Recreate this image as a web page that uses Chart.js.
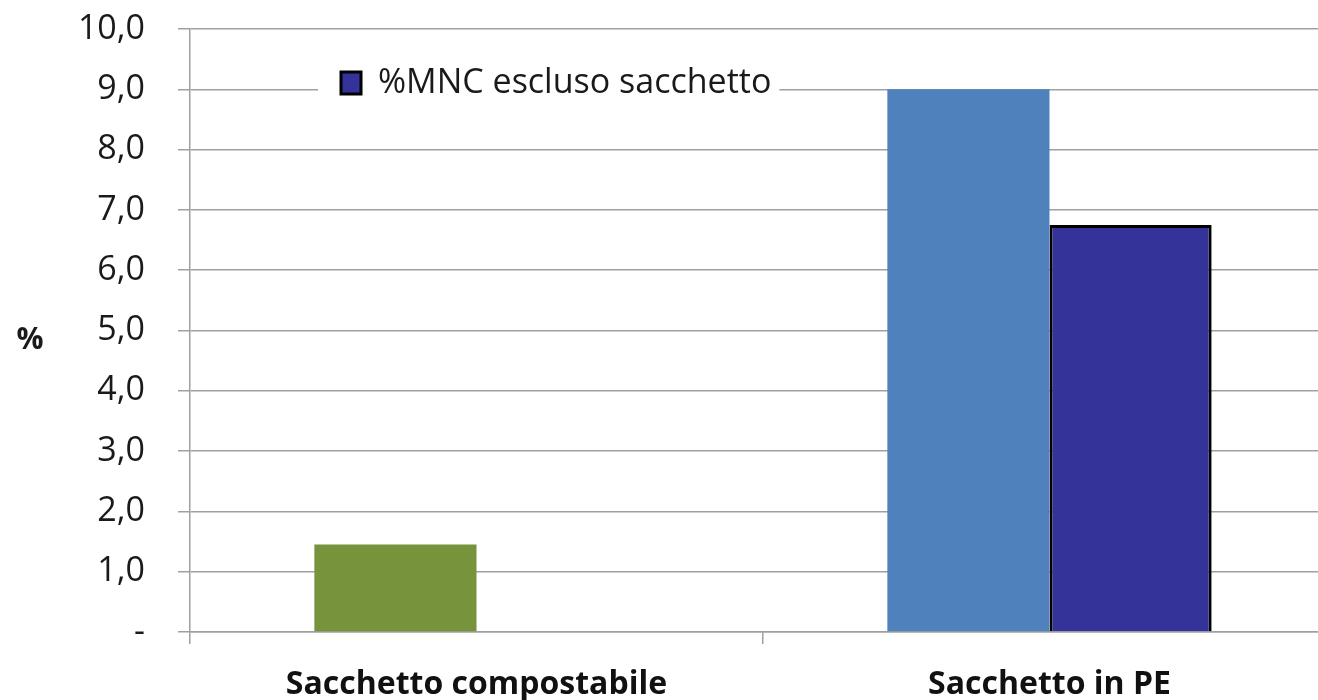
<!DOCTYPE html>
<html>
<head>
<meta charset="utf-8">
<script src="https://cdn.jsdelivr.net/npm/chart.js@4.4.1/dist/chart.umd.min.js"></script>
<style>
  html, body { margin: 0; padding: 0; background: #fff; overflow: hidden; }
  #wrap { width: 1340px; height: 700px; }
</style>
</head>
<body>
<div id="wrap"><canvas id="mcChart"></canvas></div>
<script>
const categories = ["Sacchetto compostabile", "Sacchetto in PE"];
const totalValues = [1.45, 9.0];          // bar colour changes per category
const totalColors = ["#77933C", "#4F81BD"];
const mncLabel = "%MNC escluso sacchetto";
const mncValues = [null, 6.75];
const yTicks = [0, 1, 2, 3, 4, 5, 6, 7, 8, 9, 10];

const gridColor = "#a0a0a0";
const fontFamily = "'Open Sans', sans-serif";

// white box behind the legend + upright "%" on the left
const extras = {
    id: "extras",
    afterLayout(chart) {
        const lg = chart.legend, ca = chart.chartArea;
        const w = lg.width, h = lg.height;
        lg.left = ca.left + 141;
        lg.top = ca.top + 27;
        lg.right = lg.left + w;
        lg.bottom = lg.top + h;
    },
    afterDraw(chart) {
        const ctx = chart.ctx;
        const hb = chart.legend.legendHitBoxes[0];
        if (hb) {
            ctx.save();
            ctx.fillStyle = "#fff";
            ctx.fillRect(hb.left - 23, hb.top - 6, hb.width + 31, hb.height + 12);
            ctx.restore();
            chart.legend.draw();
        }
        const y = chart.scales.y;
        ctx.save();
        ctx.font = "bold 30px " + fontFamily;
        ctx.fillStyle = "#1a1a1a";
        ctx.textAlign = "center";
        ctx.textBaseline = "middle";
        ctx.fillText("%", 30, (y.top + y.bottom) / 2 + 10);
        ctx.restore();
    }
};

new Chart(document.getElementById("mcChart").getContext("2d"), {
    type: "bar",
    data: {
        labels: categories,
        datasets: [
            {
                label: "Totale",
                data: totalValues,
                backgroundColor: totalColors,
                borderWidth: 0
            },
            {
                label: mncLabel,
                data: mncValues,
                backgroundColor: "#333399",
                borderColor: "#000",
                borderWidth: 3
            }
        ]
    },
    options: {
        responsive: true,
        maintainAspectRatio: false,
        animation: false,
        layout: { padding: { top: 29, right: 4, left: 0, bottom: 0 } },
        datasets: {
            bar: { categoryPercentage: 0.566, barPercentage: 1.0 }
        },
        plugins: {
            tooltip: { enabled: false },
            legend: {
                position: "chartArea",
                align: "start",
                labels: {
                    filter: (item) => item.datasetIndex === 1,
                    boxWidth: 20,
                    boxHeight: 22,
                    color: "#1a1a1a",
                    font: { family: fontFamily, size: 34 }
                }
            }
        },
        scales: {
            x: {
                afterFit: (s) => { s.height = 68; },
                grid: { drawOnChartArea: false, drawTicks: true, tickLength: 12, color: gridColor, lineWidth: 1.5 },
                border: { color: gridColor, width: 1.5 },
                ticks: {
                    padding: 22,
                    color: "#111",
                    font: { family: fontFamily, size: 32, weight: "bold" }
                }
            },
            y: {
                min: 0,
                max: 10,
                afterFit: (s) => { s.width = 190; s.paddingTop = 0; s.paddingBottom = 0; },
                afterBuildTicks: (s) => { s.ticks = yTicks.map(v => ({ value: v })); },
                grid: { color: gridColor, lineWidth: 1.5, tickLength: 12 },
                border: { color: gridColor, width: 1.5 },
                ticks: {
                    padding: 33,
                    color: "#1a1a1a",
                    font: { family: fontFamily, size: 34 },
                    callback: (v) => v === 0 ? "-" : v.toFixed(1).replace(".", ",")
                }
            }
        }
    },
    plugins: [extras]
});
</script>
</body>
</html>
